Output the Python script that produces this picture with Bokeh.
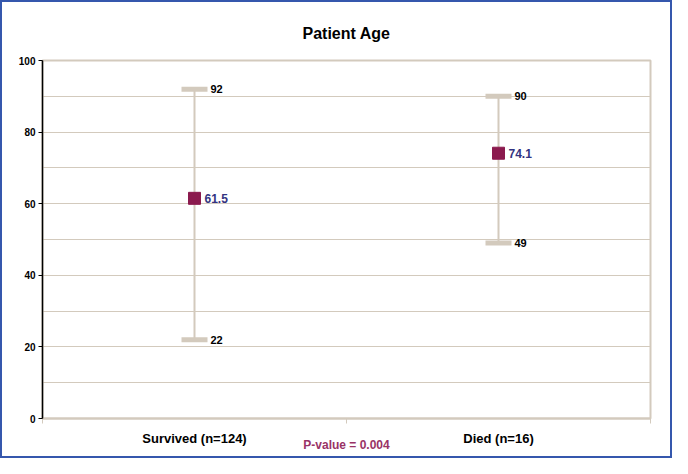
from bokeh.plotting import figure
from bokeh.models import ColumnDataSource, FixedTicker, LabelSet
from bokeh.embed import file_html
from bokeh.resources import INLINE
from bokeh.core.properties import value

categories = ["Survived (n=124)", "Died (n=16)"]
age_min = [22, 49]
age_max = [92, 90]
age_mean = [61.5, 74.1]
mean_labels = ["61.5", "74.1"]
p_value_text = "P-value = 0.004"
y_ticks = [0, 20, 40, 60, 80, 100]
grid_ticks = list(range(0, 101, 10))

xs = [i + 0.5 for i in range(len(categories))]
src = ColumnDataSource(dict(
    x=xs, lo=age_min, hi=age_max, mean=age_mean,
    lo_t=[str(v) for v in age_min], hi_t=[str(v) for v in age_max], mean_t=mean_labels,
))

FONT = "Liberation Sans"
TAN = "#d3cabd"

p = figure(width=672, height=458, x_range=(0, len(categories)), y_range=(0, 100),
           output_backend="svg", toolbar_location=None,
           min_border_left=40, min_border_right=24, min_border_top=58, min_border_bottom=42,
           title="Patient Age")
p.styles = {"border": "2px solid #3557ad", "box-sizing": "border-box"}
p.title.align = "center"
p.title.text_font = FONT
p.title.text_font_size = "16px"
p.title.text_font_style = "bold"
p.title.text_color = "black"
p.title.offset = 0
p.title.standoff = 38

p.outline_line_color = TAN
p.outline_line_width = 2
p.background_fill_color = "white"
p.border_fill_color = "white"

p.xgrid.visible = False
p.ygrid.ticker = FixedTicker(ticks=grid_ticks)
p.ygrid.grid_line_color = TAN
p.ygrid.grid_line_width = 1

p.yaxis.ticker = FixedTicker(ticks=y_ticks)
p.yaxis.axis_line_color = "black"
p.yaxis.axis_line_width = 1.5
p.yaxis.major_tick_line_color = "black"
p.yaxis.major_tick_out = 4
p.yaxis.major_tick_in = 0
p.yaxis.minor_tick_line_color = None
p.yaxis.major_label_text_font = FONT
p.yaxis.major_label_text_font_size = "10px"
p.yaxis.major_label_text_font_style = "bold"
p.yaxis.major_label_text_color = "black"
p.yaxis.major_label_standoff = 3

p.xaxis.ticker = FixedTicker(ticks=xs, minor_ticks=list(range(len(categories) + 1)))
p.xaxis.major_label_overrides = {x: c for x, c in zip(xs, categories)}
p.xaxis.axis_line_color = TAN
p.xaxis.axis_line_width = 2
p.xaxis.major_tick_line_color = None
p.xaxis.minor_tick_line_color = TAN
p.xaxis.minor_tick_out = 5
p.xaxis.minor_tick_in = 0
p.xaxis.major_label_text_font = FONT
p.xaxis.major_label_text_font_size = "13px"
p.xaxis.major_label_text_font_style = "bold"
p.xaxis.major_label_text_color = "black"
p.xaxis.major_label_standoff = 6
p.xaxis.axis_label = p_value_text
p.xaxis.axis_label_text_font = FONT
p.xaxis.axis_label_text_font_size = "12px"
p.xaxis.axis_label_text_font_style = "bold"
p.xaxis.axis_label_text_color = "#993366"
p.xaxis.axis_label_standoff = -11

p.segment(x0="x", y0="lo", x1="x", y1="hi", source=src, line_color=TAN, line_width=2)
p.rect(x="x", y="lo", width=26, height=5, width_units="screen", height_units="screen",
       source=src, fill_color=TAN, line_color=None)
p.rect(x="x", y="hi", width=26, height=5, width_units="screen", height_units="screen",
       source=src, fill_color=TAN, line_color=None)
p.scatter(x="x", y="mean", source=src, marker="square", size=12,
          fill_color="#8b1a4e", line_color="#8b1a4e")

for col, ycol, color, off, fs in [("lo_t", "lo", "black", 16, "11px"),
                                  ("hi_t", "hi", "black", 16, "11px"),
                                  ("mean_t", "mean", "#333380", 10, "12px")]:
    p.add_layout(LabelSet(x="x", y=ycol, text=col, source=src, x_offset=off,
                          text_baseline="middle", text_font=value(FONT),
                          text_font_size=fs, text_font_style="bold", text_color=color))

open("out.html", "w").write(file_html(p, INLINE))
